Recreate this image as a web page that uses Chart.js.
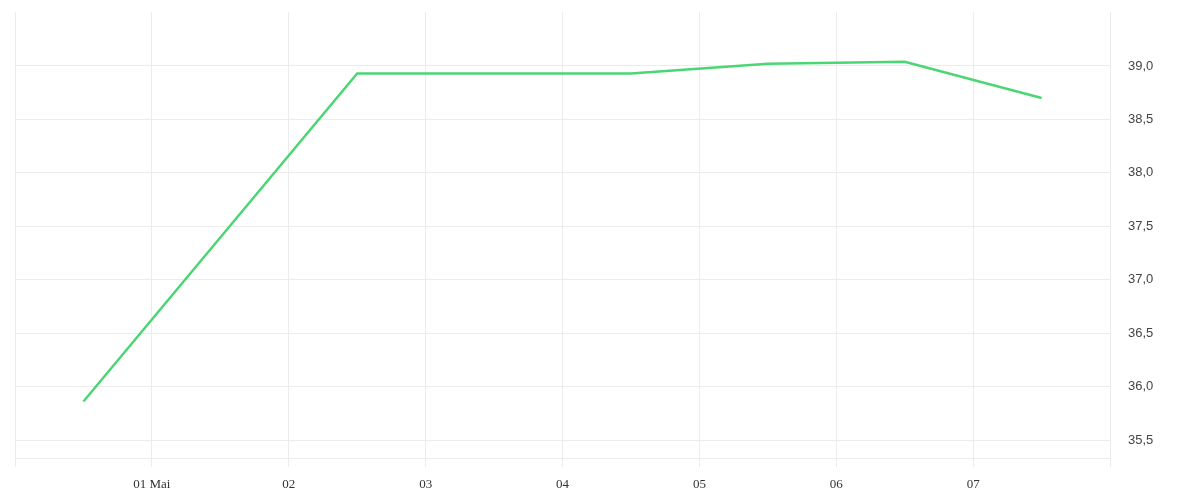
<!DOCTYPE html>
<html>
<head>
<meta charset="utf-8">
<script src="https://cdn.jsdelivr.net/npm/chart.js@4/dist/chart.umd.min.js"></script>
<style>
  html, body { margin: 0; padding: 0; background: #fff; }
  #wrap { width: 1200px; height: 500px; }
</style>
</head>
<body>
<div id="wrap"><canvas id="tempChart" width="1200" height="500"></canvas></div>
<script>
// days counted from 30 Apr 00:00
const dayPositions = [0.5, 2.5, 4.5, 5.5, 6.5, 7.5];
const temperatures = [35.86, 38.93, 38.93, 39.02, 39.04, 38.70];
const dayTicks = [0, 1, 2, 3, 4, 5, 6, 7, 8];
const dayLabels = ['', '01 Mai', '02', '03', '04', '05', '06', '07', ''];
const valueTicks = [35.5, 36.0, 36.5, 37.0, 37.5, 38.0, 38.5, 39.0];

document.addEventListener('DOMContentLoaded', function() {
  const points = dayPositions.map((d, i) => ({ x: d, y: temperatures[i] }));
  const gridColor = '#ececec';

  new Chart(document.getElementById('tempChart').getContext('2d'), {
    type: 'line',
    data: {
      datasets: [{
        data: points,
        borderColor: '#4cd575',
        borderWidth: 2.5,
        pointRadius: 0,
        tension: 0,
        fill: false
      }]
    },
    options: {
      responsive: false,
      animation: false,
      layout: { padding: { left: 15, top: 12, right: 0, bottom: 0 } },
      plugins: { legend: { display: false }, tooltip: { enabled: false } },
      scales: {
        x: {
          type: 'linear',
          min: 0,
          max: 8,
          afterBuildTicks: s => { s.ticks = dayTicks.map(v => ({ value: v })); },
          afterFit: s => { s.height = 42; s.paddingLeft = 0; s.paddingRight = 0; },
          grid: { color: gridColor, tickLength: 9, drawTicks: true },
          border: { color: gridColor },
          ticks: {
            autoSkip: false,
            maxRotation: 0,
            padding: 10,
            color: '#333',
            font: { family: 'Liberation Serif', size: 13 },
            callback: (v, i) => dayLabels[i]
          }
        },
        y: {
          position: 'right',
          min: 35.332,
          max: 39.505,
          afterBuildTicks: s => { s.ticks = valueTicks.map(v => ({ value: v })); },
          afterFit: s => { s.width = 90; s.paddingTop = 0; s.paddingBottom = 0; },
          grid: { color: gridColor, drawTicks: false },
          border: { color: gridColor },
          ticks: {
            padding: 18,
            color: '#444',
            font: { family: 'Liberation Sans', size: 13 },
            callback: v => v.toFixed(1).replace('.', ',')
          }
        }
      }
    }
  });
});
</script>
</body>
</html>
